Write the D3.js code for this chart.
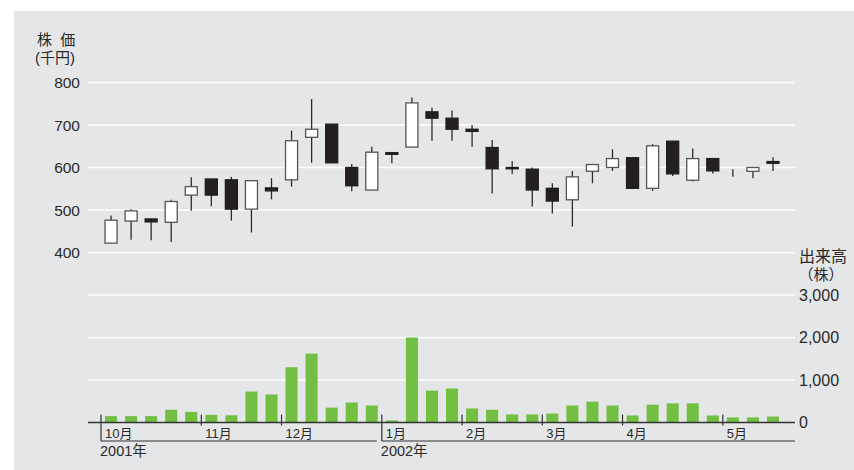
<!DOCTYPE html>
<html>
<head>
<meta charset="utf-8">
<script src="https://cdn.jsdelivr.net/npm/d3@7"></script>
<style>
  body { margin: 0; background: #fff; }
  svg { display: block; font-family: "Liberation Sans", Arial, "Noto Sans CJK JP", sans-serif; }
</style>
</head>
<body>
<div class="chart"></div>
<script>
// weekly candles, Oct 2001 - May 2002 (price in thousand yen)
var opens  = [422, 474, 479, 471, 535, 573, 571, 502, 552, 571, 671, 702, 600, 547, 635, 648, 731,
              716, 690, 647, 600, 596, 551, 524, 591, 600, 623, 551, 662, 570, 621, 590, 591, 614];
var closes = [476, 498, 472, 520, 555, 535, 502, 569, 545, 663, 690, 611, 557, 636, 631, 752, 716,
              690, 685, 597, 597, 547, 521, 578, 607, 621, 551, 651, 585, 621, 592, 590, 600, 610];
var highs  = [487, 502, 479, 524, 577, 573, 578, 569, 575, 687, 761, 702, 608, 649, 635, 765, 741,
              734, 700, 665, 615, 600, 563, 592, 607, 643, 623, 655, 662, 645, 621, 596, 600, 624];
var lows   = [422, 430, 429, 425, 498, 509, 475, 447, 525, 555, 611, 611, 544, 547, 610, 648, 663,
              663, 649, 539, 585, 508, 492, 461, 563, 592, 551, 545, 580, 567, 586, 578, 575, 592];
var volumes = [150, 150, 150, 300, 250, 180, 170, 730, 660, 1300, 1620, 350, 470, 400, 50, 2000, 750,
               800, 330, 300, 190, 190, 210, 400, 490, 400, 165, 420, 450, 450, 165, 120, 120, 140];

var monthLabels = ["10月", "11月", "12月", "1月", "2月", "3月", "4月", "5月"];
var monthStarts = [0, 5, 9, 14, 18, 22, 26, 31];
var yearLabels = ["2001年", "2002年"];
var yearStarts = [0, 14];

var priceTicks = [400, 500, 600, 700, 800];
var volumeTicks = [0, 1000, 2000, 3000];

var width = 854,
    height = 470;

var svg = d3.select(".chart").append("svg")
    .attr("width", width)
    .attr("height", height);

svg.append("rect")
    .attr("x", 14).attr("y", 11)
    .attr("width", width - 14).attr("height", height - 11)
    .attr("fill", "#e5e6e8");

var n = opens.length;
var x = d3.scaleBand()
    .domain(d3.range(n))
    .range([101, 783])
    .paddingInner(0.4)
    .paddingOuter(0.2);

var y = d3.scaleLinear().domain([400, 800]).range([252.5, 82.5]);
var yVol = d3.scaleLinear().domain([0, 3000]).range([422.5, 295]);

var gridLeft = 88, gridRight = 795;
var textColor = "#2a2a2a";

// gridlines: price area and volume area
var gridYs = priceTicks.map(function(d) { return y(d); })
    .concat(volumeTicks.slice(1).map(function(d) { return yVol(d); }));

svg.append("g")
    .selectAll("line")
    .data(gridYs)
    .enter()
    .append("line")
    .attr("x1", gridLeft).attr("x2", gridRight)
    .attr("y1", function(d) { return d; })
    .attr("y2", function(d) { return d; })
    .attr("stroke", "#fff")
    .attr("stroke-width", 1.6);

// price labels
svg.append("g")
    .selectAll("text")
    .data(priceTicks)
    .enter()
    .append("text")
    .attr("x", 80)
    .attr("y", function(d) { return y(d) + 5.5; })
    .attr("text-anchor", "end")
    .attr("font-size", 15.5)
    .attr("fill", textColor)
    .text(function(d) { return d; });

// volume labels
svg.append("g")
    .selectAll("text")
    .data(volumeTicks)
    .enter()
    .append("text")
    .attr("x", 799)
    .attr("y", function(d) { return yVol(d) + 5.5; })
    .attr("font-size", 16)
    .attr("fill", textColor)
    .text(function(d) { return d3.format(",")(d); });

// axis titles
svg.append("text").attr("x", 37).attr("y", 45).attr("font-size", 15).attr("fill", textColor)
    .attr("letter-spacing", 2).text("株 価");
svg.append("text").attr("x", 35).attr("y", 63).attr("font-size", 15).attr("fill", textColor)
    .text("(千円)");
svg.append("text").attr("x", 823).attr("y", 262).attr("font-size", 16).attr("fill", textColor)
    .attr("text-anchor", "middle").text("出来高");
svg.append("text").attr("x", 821).attr("y", 280).attr("font-size", 15).attr("fill", textColor)
    .attr("text-anchor", "middle").text("（株）");

// volume bars
svg.append("g")
    .selectAll("rect")
    .data(volumes)
    .enter()
    .append("rect")
    .attr("x", function(d, i) { return x(i); })
    .attr("y", function(d) { return yVol(d); })
    .attr("width", x.bandwidth())
    .attr("height", function(d) { return yVol(0) - yVol(d); })
    .attr("fill", "#72bf44");

// candles
var candles = svg.append("g")
    .selectAll("g")
    .data(d3.range(n))
    .enter()
    .append("g");

candles.append("line")
    .attr("x1", function(i) { return x(i) + x.bandwidth() / 2; })
    .attr("x2", function(i) { return x(i) + x.bandwidth() / 2; })
    .attr("y1", function(i) { return y(highs[i]); })
    .attr("y2", function(i) { return y(lows[i]); })
    .attr("stroke", "#2b2b2b")
    .attr("stroke-width", 1.3);

candles.filter(function(i) { return opens[i] !== closes[i]; })
    .append("rect")
    .attr("x", function(i) { return x(i); })
    .attr("y", function(i) { return y(Math.max(opens[i], closes[i])); })
    .attr("width", x.bandwidth())
    .attr("height", function(i) { return Math.abs(y(opens[i]) - y(closes[i])); })
    .attr("fill", function(i) { return closes[i] > opens[i] ? "#fff" : "#231f20"; })
    .attr("stroke", function(i) { return closes[i] > opens[i] ? "#555" : "#231f20"; })
    .attr("stroke-width", 1.3);

// time axis
var axisY = yVol(0);
svg.append("line")
    .attr("x1", gridLeft).attr("x2", gridRight)
    .attr("y1", axisY).attr("y2", axisY)
    .attr("stroke", "#333").attr("stroke-width", 1.4);

var gap = (x.step() - x.bandwidth()) / 2;
function boundary(i) { return x(i) - gap; }

svg.append("g")
    .selectAll("line")
    .data(monthStarts)
    .enter()
    .append("line")
    .attr("x1", function(d) { return boundary(d); })
    .attr("x2", function(d) { return boundary(d); })
    .attr("y1", axisY - 8)
    .attr("y2", function(d) { return yearStarts.indexOf(d) >= 0 ? 441 : axisY + 3; })
    .attr("stroke", "#333").attr("stroke-width", 1.2);

svg.append("g")
    .selectAll("text")
    .data(monthLabels)
    .enter()
    .append("text")
    .attr("x", function(d, i) { return boundary(monthStarts[i]) + 4; })
    .attr("y", 438)
    .attr("font-size", 13)
    .attr("fill", textColor)
    .text(function(d) { return d; });

// year brackets
svg.append("g")
    .selectAll("line")
    .data(yearStarts)
    .enter()
    .append("line")
    .attr("x1", function(d) { return boundary(d); })
    .attr("x2", function(d, i) { return i + 1 < yearStarts.length ? boundary(yearStarts[i + 1]) - 5 : gridRight; })
    .attr("y1", 441).attr("y2", 441)
    .attr("stroke", "#333").attr("stroke-width", 1.2);

svg.append("g")
    .selectAll("text")
    .data(yearLabels)
    .enter()
    .append("text")
    .attr("x", function(d, i) { return boundary(yearStarts[i]) - 1; })
    .attr("y", 456)
    .attr("font-size", 14.5)
    .attr("fill", textColor)
    .text(function(d) { return d; });
</script>
</body>
</html>
